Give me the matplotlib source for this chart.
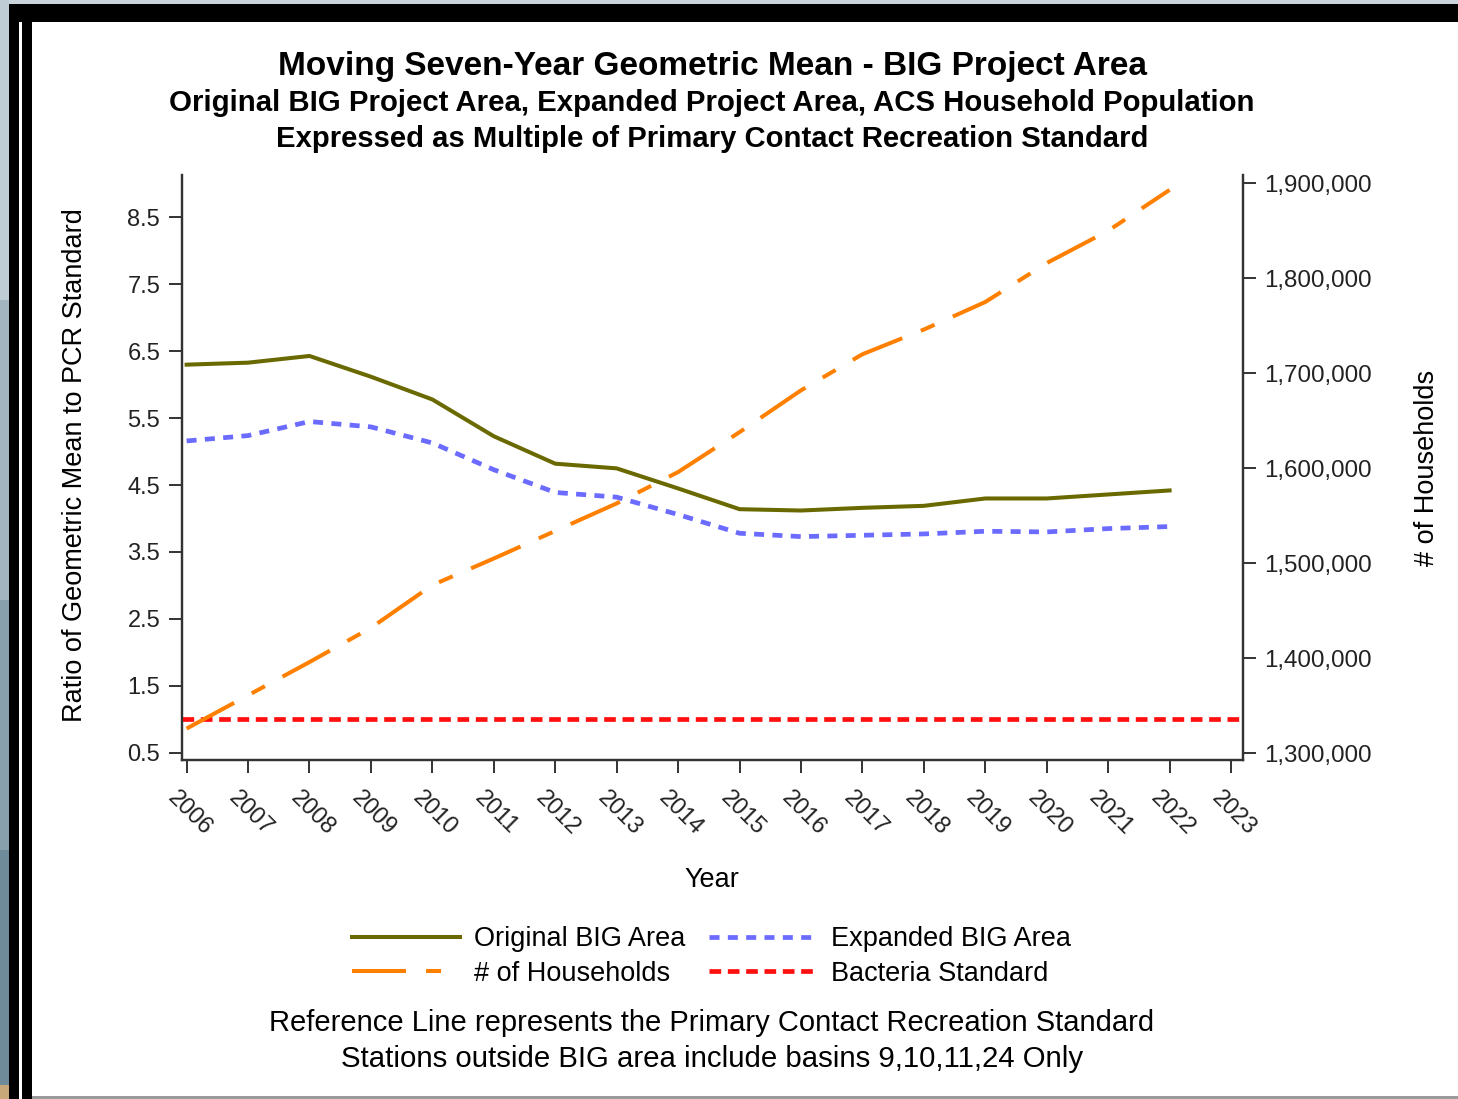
import matplotlib
matplotlib.use("Agg")
import matplotlib.pyplot as plt
import matplotlib.transforms as mtransforms
from matplotlib.patches import Rectangle
from matplotlib.ticker import FuncFormatter

# ==========================================
# DATA
# ==========================================

years = list(range(2006, 2023))

original_big = [6.30, 6.33, 6.43, 6.12, 5.78, 5.23, 4.82, 4.75, 4.45,
                4.14, 4.12, 4.16, 4.19, 4.30, 4.30, 4.36, 4.42]

expanded_big = [5.16, 5.24, 5.45, 5.37, 5.13, 4.73, 4.39, 4.32, 4.06,
                3.78, 3.73, 3.75, 3.77, 3.81, 3.80, 3.85, 3.88]

households = [1326000, 1361000, 1396000, 1432000, 1477000, 1505000,
              1534000, 1563000, 1596000, 1638000, 1682000, 1720000,
              1746000, 1775000, 1816000, 1850000, 1893000]

bacteria_standard = 1.0

tick_years = list(range(2006, 2024))
left_ticks = [0.5, 1.5, 2.5, 3.5, 4.5, 5.5, 6.5, 7.5, 8.5]
right_ticks = [1300000, 1400000, 1500000, 1600000, 1700000, 1800000, 1900000]

title = "Moving Seven-Year Geometric Mean - BIG Project Area"
subtitle1 = "Original BIG Project Area, Expanded Project Area, ACS Household Population"
subtitle2 = "Expressed as Multiple of Primary Contact Recreation Standard"
footnote1 = "Reference Line represents the Primary Contact Recreation Standard"
footnote2 = "Stations outside BIG area include basins 9,10,11,24 Only"

# ==========================================
# SETUP
# ==========================================

plt.rcParams["font.family"] = ["Liberation Sans", "DejaVu Sans"]
plt.rcParams["lines.scale_dashes"] = False

W, H = 1458, 1099
fig = plt.figure(figsize=(W / 100, H / 100), dpi=100)
fig.patch.set_facecolor("white")


def px_rect(x0, y0, x1, y1, color):
    fig.add_artist(Rectangle(
        (x0 / W, 1 - y1 / H), (x1 - x0) / W, (y1 - y0) / H,
        transform=fig.transFigure, facecolor=color,
        edgecolor="none", zorder=0
    ))


# screenshot frame
px_rect(0, 0, W, 4, "#c9d5db")
px_rect(0, 0, 9, 300, "#bfccd3")
px_rect(0, 300, 9, 600, "#a3b6c0")
px_rect(0, 600, 9, 850, "#88a0ac")
px_rect(0, 850, 9, 1085, "#6f8b99")
px_rect(0, 1085, 9, H, "#c8a878")
px_rect(9, 4, W, 22, "black")
px_rect(9, 4, 19, H, "black")
px_rect(22, 22, 32, H, "black")
px_rect(32, 1096, W, H, "#9a9a9a")

# ==========================================
# AXES
# ==========================================

ax_left, ax_right = 181.7, 1243
ax_top, ax_bottom = 175, 760

ax = fig.add_axes([ax_left / W, 1 - ax_bottom / H,
                   (ax_right - ax_left) / W, (ax_bottom - ax_top) / H])
ax2 = ax.twinx()

olive = "#696900"
blue = "#6b6bff"
orange = "#ff8000"
red = "#ff1010"

l_orig, = ax.plot(years, original_big, color=olive, lw=2.9,
                  solid_joinstyle="round", label="Original BIG Area", zorder=4)
l_exp, = ax.plot(years, expanded_big, color=blue, lw=3.4,
                 dashes=(7.2, 6.0), label="Expanded BIG Area", zorder=3)
l_std = ax.axhline(bacteria_standard, color=red, lw=3.4,
                   dashes=(8.4, 4.8), label="Bacteria Standard", zorder=3)
l_hh, = ax2.plot(years, households, color=orange, lw=2.9,
                 dashes=(38.9, 14.4, 10.8, 14.4), label="# of Households")

ax.set_xlim(2005.92, 2023.195)
ax.set_ylim(0.391, 9.135)
ax2.set_ylim(1292900, 1908700)

ax.set_xticks(tick_years)
ax.set_xticklabels([str(y) for y in tick_years], rotation=-45,
                   ha="left", va="top", rotation_mode="anchor")

ax.set_yticks(left_ticks)
ax.set_yticklabels([str(v) for v in left_ticks])
ax2.set_yticks(right_ticks)
ax2.yaxis.set_major_formatter(FuncFormatter(lambda v, p: f"{int(v):,}"))

spine_color = "#333333"
for a in (ax, ax2):
    a.spines["top"].set_visible(False)
    for s in ("left", "right", "bottom"):
        a.spines[s].set_color(spine_color)
        a.spines[s].set_linewidth(1.6)
    a.tick_params(colors=spine_color, labelcolor="#222222",
                  labelsize=17, length=9.5, width=1.4)

ax.tick_params(axis="x", pad=10)
ax.tick_params(axis="y", pad=6)
ax2.tick_params(axis="y", pad=6, labelsize=17.4)

# nudge the slanted year labels left (after tick_params, which resets them)
shift = mtransforms.ScaledTranslation(-8 / 100, 0, fig.dpi_scale_trans)
for lbl in ax.get_xticklabels():
    lbl.set_transform(lbl.get_transform() + shift)

# ==========================================
# TEXT
# ==========================================

fig.text(712 / W, 1 - 66 / H, title, ha="center", va="center",
         fontsize=24.0, fontweight="bold")
fig.text(712 / W, 1 - 103 / H, subtitle1, ha="center", va="center",
         fontsize=21.2, fontweight="bold")
fig.text(712 / W, 1 - 139 / H, subtitle2, ha="center", va="center",
         fontsize=21.1, fontweight="bold")

fig.text(75 / W, 1 - 465 / H, "Ratio of Geometric Mean to PCR Standard",
         rotation=90, ha="center", va="center", fontsize=19.5)
fig.text(1427 / W, 1 - 468 / H, "# of Households",
         rotation=90, ha="center", va="center", fontsize=19.5)
fig.text(712 / W, 1 - 880 / H, "Year", ha="center", va="center",
         fontsize=19.5)

fig.legend(handles=[l_orig, l_hh, l_exp, l_std], ncol=2,
           loc="center", bbox_to_anchor=(711.5 / W, 1 - 956.5 / H),
           frameon=False, fontsize=19.5, handlelength=4.0,
           handletextpad=0.5, columnspacing=0.9, labelspacing=0.3)

fig.text(712 / W, 1 - 1023 / H, footnote1, ha="center", va="center",
         fontsize=21.0)
fig.text(712 / W, 1 - 1059 / H, footnote2, ha="center", va="center",
         fontsize=21.2)

fig.savefig("out.png", dpi=100)
plt.close(fig)
